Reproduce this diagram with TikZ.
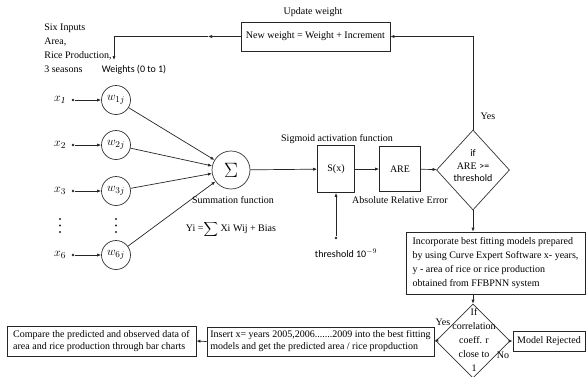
\documentclass[tikz,border=0pt]{standalone}
\usepackage{fontspec}
\setmainfont{Liberation Serif}
\newfontfamily\calfont{Carlito}
\usetikzlibrary{shapes.geometric,arrows.meta}

\begin{document}
\begin{tikzpicture}[x=1pt,y=-1pt,
        font=\fontsize{10}{14}\selectfont,
        line width=0.7pt,
        >={Latex[length=4pt,width=3.2pt]},
        box/.style={draw=black!85,rectangle,inner sep=2pt},
        wcirc/.style={draw=black!80,circle,minimum size=29,inner sep=0pt,font=\fontsize{13}{13}\selectfont},
        xlab/.style={inner sep=1pt,font=\fontsize{13}{13}\selectfont},
        inpdot/.style={circle,fill=black!85,inner sep=0.9pt},
        decbox/.style={draw=black!80,diamond,inner sep=0pt},
        flow/.style={->,draw=black!85}]
        \useasboundingbox (0,0) rectangle (587,376);

        % update of the weights
        \node (upd) at (313,12) {Update weight};
        \node[box,minimum width=149,minimum height=29] (neww) at (315.5,36.5) {New weight = Weight + Increment};
        \coordinate (fbmid) at (208,36.5);
        \coordinate (fbend) at (114,60);
        \draw[flow] (neww.west) -- (fbmid);
        \draw[flow] (fbmid) -| (fbend);

        \node[anchor=north west,align=left,inner sep=0pt] (inp) at (44,24) {Six Inputs\\Area,\\Rice Production,\\3 seasons};
        \node (wts) at (134,70) {\calfont Weights (0 to 1)};

        % inputs and weights
        \node[xlab] (x1) at (60,100) {$x_{\mathit 1}$};
        \node[xlab] (x2) at (60,145) {$x_2$};
        \node[xlab] (x3) at (60,191) {$x_3$};
        \node[xlab] (x6) at (60,255) {$x_6$};

        \node[inpdot] (d1) at (73,100) {};
        \node[inpdot] (d2) at (73,145) {};
        \node[inpdot] (d3) at (73,191) {};
        \node[inpdot] (d6) at (73,255) {};

        \node[wcirc] (w1) at (116,100) {$w_{1j}$};
        \node[wcirc] (w2) at (116,145) {$w_{2j}$};
        \node[wcirc] (w3) at (116,191) {$w_{3j}$};
        \node[wcirc] (w6) at (116,255) {$w_{6j}$};

        % vertical dots
        \fill[black!85] (60,219) circle (1.1) (60,225.5) circle (1.1) (60,232) circle (1.1);
        \fill[black!85] (116,219) circle (1.1) (116,225.5) circle (1.1) (116,232) circle (1.1);

        \draw[flow] (d1) -- (w1);
        \draw[flow] (d2) -- (w2);
        \draw[flow] (d3) -- (w3);
        \draw[flow] (d6) -- (w6);

        % summation
        \node[draw=black!80,circle,minimum size=38,inner sep=0pt] (sum) at (231,170) {\fontsize{20}{20}\selectfont$\Sigma$};
        \draw[flow] (w1) -- (sum);
        \draw[flow] (w2) -- (sum);
        \draw[flow] (w3) -- (sum);
        \draw[flow] (w6) -- (sum);
        \node (sumtxt) at (233,200) {Summation function};
        \node (yi) at (231,229) {Yi =$\displaystyle\sum$ Xi Wij + Bias};

        % activation and error
        \node (sigtxt) at (337,139) {Sigmoid activation function};
        \node[box,minimum width=37,minimum height=47] (sx) at (336,169) {S(x)};
        \node[box,minimum width=41,minimum height=45] (are) at (400,169) {ARE};
        \node (aretxt) at (400,200) {Absolute Relative Error};
        \draw[flow] (sum) -- (sx);
        \draw[flow] (sx) -- (are);

        \node[inpdot] (thd) at (336,238) {};
        \node (thdtxt) at (346,253) {\calfont threshold 10$^{-9}$};
        \draw[flow] (thd) -- (sx);

        % decision on the error
        \node[decbox,minimum width=73,minimum height=80] (dec) at (473,170) {};
        \node[align=center,inner sep=0pt] (dectxt) at (473,166) {\calfont if\\[-1pt]ARE {\calfont >=}\\[-2pt]\calfont threshold};
        \draw[flow] (are) -- (dec);
        \draw[flow] (dec.north) |- (neww.east);
        \node (yes1) at (488,116) {Yes};

        % curve fitting
        \node[box,minimum width=179,minimum height=62,align=left] (inc) at (495.5,263) {Incorporate best fitting models prepared\\by using Curve Expert Software x- years,\\y - area of rice or rice production\\obtained from FFBPNN system};
        \draw[flow] (dec.south) -- (dec.south |- inc.north);

        \node[decbox,minimum width=74,minimum height=74] (cor) at (473,341) {};
        \node[align=center,inner sep=0pt] (cortxt) at (474,340) {If\\correlation\\coeff. r\\close to\\1};
        \draw[flow] (cor.north |- inc.south) -- (cor.north);

        \node[box,minimum width=72,minimum height=20] (rej) at (549,341) {Model Rejected};
        \node[box,minimum width=227,minimum height=29,align=left] (ins) at (320.5,341.5) {Insert x= years 2005,2006.......2009 into the best fitting\\[-2pt]models and get the predicted area / rice propduction};
        \node[box,minimum width=189,minimum height=30,align=left] (cmp) at (101.5,341) {Compare the predicted and observed data of\\[-2pt]area and rice production through bar charts};
        \draw[flow] (cor.east) -- (rej.west);
        \draw[flow] (cor.west) -- (ins.east);
        \draw[flow] (ins.west) -- (cmp.east);
        \node (yes2) at (443,322) {Yes};
        \node (no) at (503,355) {No};
    \end{tikzpicture}
\end{document}
